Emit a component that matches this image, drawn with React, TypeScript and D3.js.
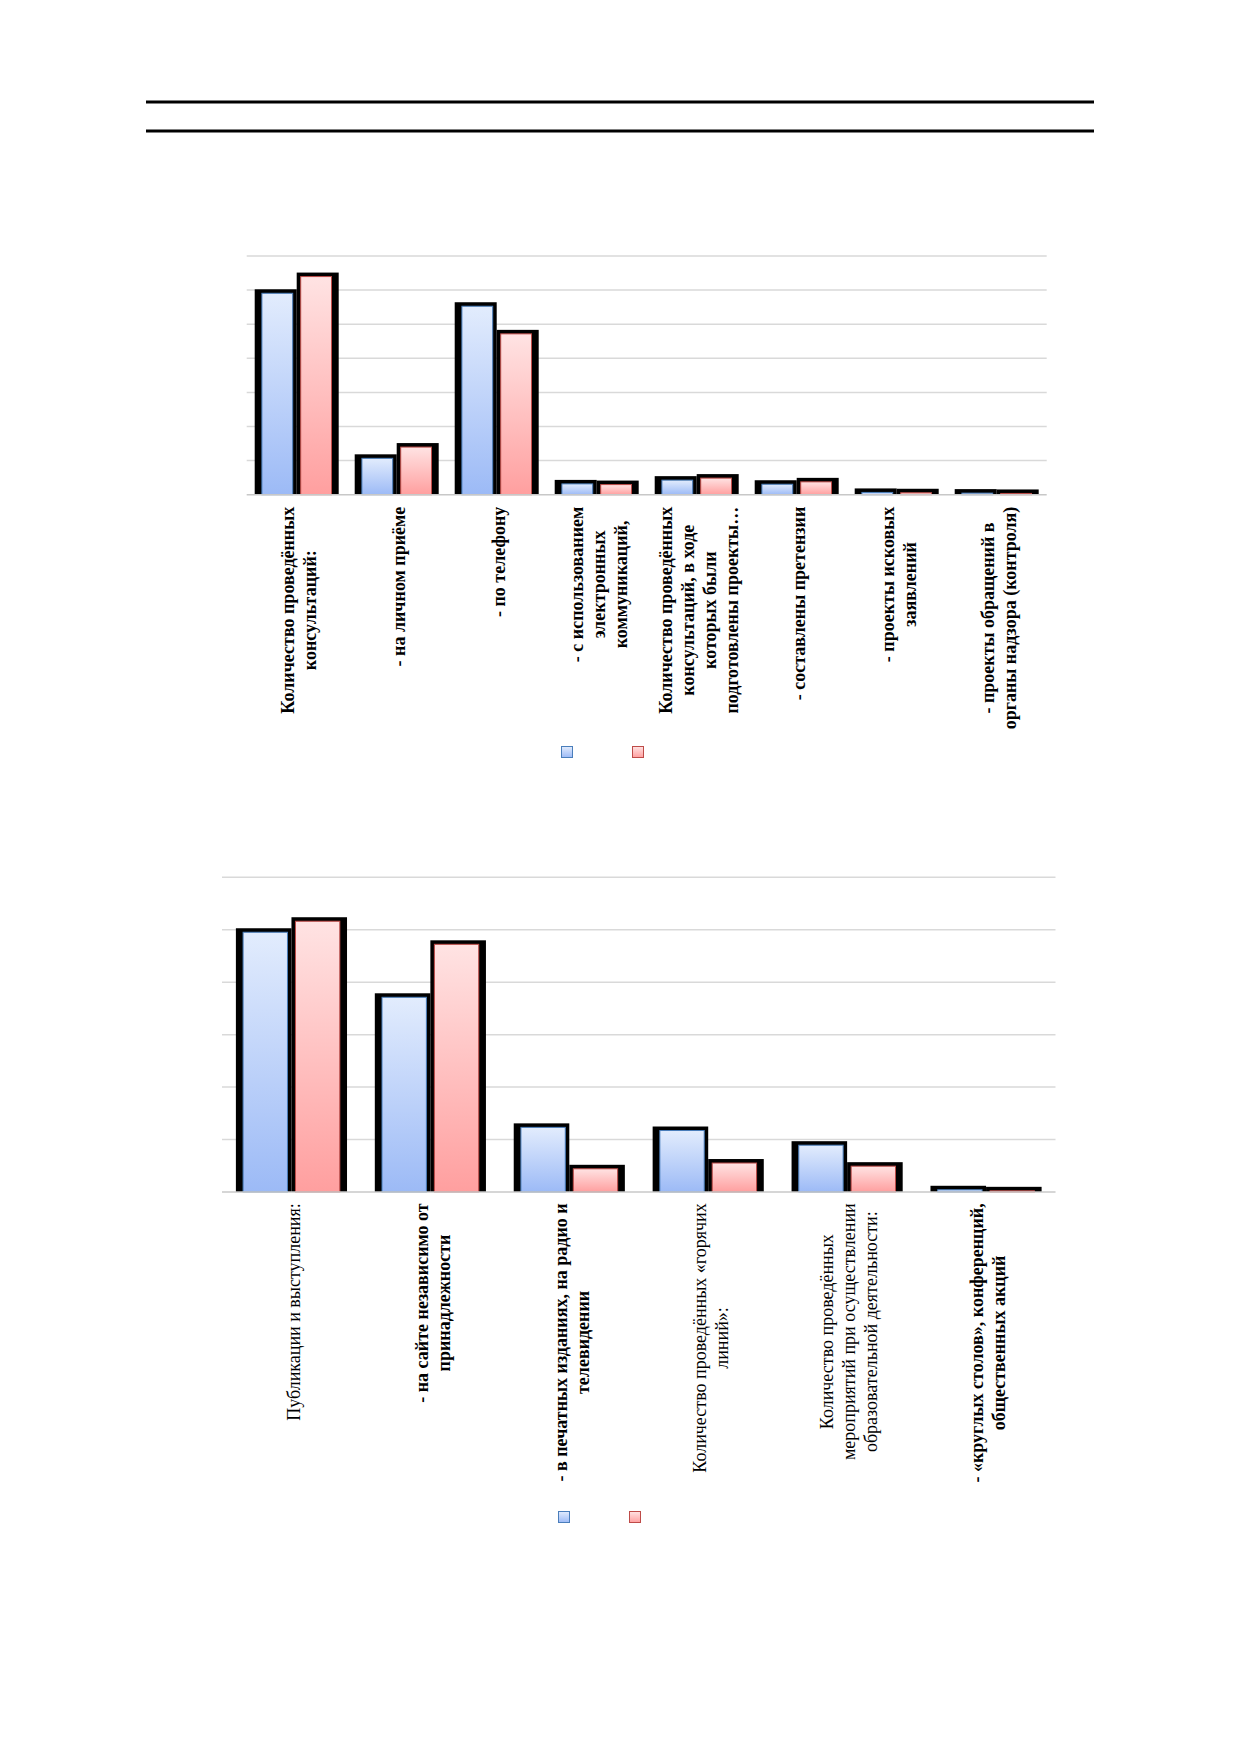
import React, { useEffect, useRef } from 'react';
import * as d3 from 'd3';

// ---------- Chart 1 data ----------
const categories1 = [
  'Количество проведённых\nконсультаций:',
  '- на личном приёме',
  '- по телефону',
  '- с использованием\nэлектронных\nкоммуникаций,',
  'Количество проведённых\nконсультаций, в ходе\nкоторых были\nподготовлены проекты…',
  '- составлены претензии',
  '- проекты исковых\nзаявлений',
  '- проекты обращений в\nорганы надзора (контроля)',
];
const seriesA1 = [598, 114, 560, 39, 50, 38, 14, 12];
const seriesB1 = [647, 147, 479, 37, 56, 45, 13, 11];
const ticks1 = [0, 100, 200, 300, 400, 500, 600, 700];

// ---------- Chart 2 data ----------
const categories2 = [
  'Публикации и выступления:',
  '- на сайте независимо от\nпринадлежности',
  '- в печатных изданиях, на радио и\nтелевидении',
  'Количество проведённых «горячих\nлиний»:',
  'Количество проведённых\nмероприятий при осуществлении\nобразовательной деятельности:',
  '- «круглых столов», конференций,\nобщественных акций',
];
const seriesA2 = [500, 376, 128, 122, 94, 9];
const seriesB2 = [521, 477, 49, 60, 54, 7];
const ticks2 = [0, 100, 200, 300, 400, 500, 600];

const FONT = '"Liberation Serif", "Times New Roman", serif';

type Cfg = {
  cats: string[];
  series: number[][];
  ticks: number[];
  left: number;
  right: number;
  top: number;
  base: number;
  pi: number;
  po: number;
  labelTop: number;
  boldAll: boolean;
  legendY: number;
  legendX: number[];
};

export default function App() {
  const ref = useRef<SVGSVGElement>(null);

  useEffect(() => {
    const svg = d3.select(ref.current!);
    svg.selectAll('*').remove();
    svg.append('rect').attr('width', 1237).attr('height', 1754).attr('fill', '#fff');

    const defs = svg.append('defs');
    const grad = (id: string, c0: string, c1: string) => {
      const g = defs.append('linearGradient').attr('id', id).attr('x1', 0).attr('y1', 0).attr('x2', 0).attr('y2', 1);
      g.append('stop').attr('offset', '0%').attr('stop-color', c0);
      g.append('stop').attr('offset', '100%').attr('stop-color', c1);
    };
    grad('gBlue', '#e2ecfd', '#9cbaf6');
    grad('gRed', '#ffe3e3', '#ff9f9f');
    const fills = ['url(#gBlue)', 'url(#gRed)'];
    const edges = ['#4a7ebb', '#be4b48'];

    // page rules
    [102, 131].forEach((yy) => {
      svg.append('line').attr('x1', 146).attr('x2', 1094).attr('y1', yy).attr('y2', yy)
        .attr('stroke', '#000').attr('stroke-width', 3);
    });

    const drawChart = (c: Cfg) => {
      const n = c.cats.length;
      const x0 = d3.scaleBand<number>().domain(d3.range(n)).range([c.left, c.right])
        .paddingInner(c.pi).paddingOuter(c.po);
      const x1 = d3.scaleBand<number>().domain([0, 1]).range([0, x0.bandwidth()]);
      const maxT = c.ticks[c.ticks.length - 1];
      const y = d3.scaleLinear().domain([0, maxT]).range([c.base, c.top]);

      const g = svg.append('g');
      c.ticks.filter((t) => t > 0).forEach((t) => {
        g.append('line').attr('x1', c.left).attr('x2', c.right).attr('y1', y(t)).attr('y2', y(t))
          .attr('stroke', '#d9d9d9').attr('stroke-width', 1.5);
      });

      c.series.forEach((vals, si) => {
        vals.forEach((v, i) => {
          const sx = (x0(i) as number) + (x1(si) as number);
          const sw = x1.bandwidth();
          const yv = y(v);
          g.append('rect').attr('x', sx).attr('y', yv - 1.5).attr('width', sw)
            .attr('height', Math.max(0, c.base - (yv - 1.5))).attr('fill', '#000');
          const iL = si === 0 ? 6.7 : 3.5;
          const iR = si === 0 ? 3.5 : 6.7;
          const fh = c.base - (yv + 2);
          if (fh > 0) {
            g.append('rect').attr('x', sx + iL + 0.5).attr('y', yv + 2.5).attr('width', sw - iL - iR - 1)
              .attr('height', Math.max(0, fh - 0.5)).attr('fill', fills[si])
              .attr('stroke', edges[si]).attr('stroke-width', 1);
          }
        });
      });

      g.append('line').attr('x1', c.left).attr('x2', c.right).attr('y1', c.base).attr('y2', c.base)
        .attr('stroke', '#c8c8c8').attr('stroke-width', 1.5);

      // category labels (rotated)
      const fs = 18;
      const lh = 22;
      c.cats.forEach((cat, i) => {
        const lines = cat.split('\n');
        const bold = c.boldAll || cat.trim().startsWith('-');
        const lg = g.append('g');
        const m = lines.length;
        let maxLen = 0;
        lines.forEach((ln, k) => {
          const t = lg.append('text').attr('text-anchor', 'middle').attr('x', 0)
            .attr('y', (k - (m - 1) / 2) * lh).attr('dy', '0.35em')
            .attr('font-family', FONT).attr('font-size', fs)
            .attr('font-weight', bold ? 'bold' : 'normal').attr('fill', '#000').text(ln);
          const len = (t.node() as SVGTextElement).getComputedTextLength();
          if (len > maxLen) maxLen = len;
        });
        const cx = (x0(i) as number) + x0.bandwidth() / 2 + 2;
        lg.attr('transform', `translate(${cx},${c.labelTop + maxLen / 2}) rotate(-90)`);
      });

      // legend (markers only)
      c.legendX.forEach((lx, si) => {
        g.append('rect').attr('x', lx - 5.5).attr('y', c.legendY - 5.5).attr('width', 11).attr('height', 11)
          .attr('fill', fills[si]).attr('stroke', edges[si]).attr('stroke-width', 1);
      });
    };

    drawChart({
      cats: categories1, series: [seriesA1, seriesB1], ticks: ticks1,
      left: 246.7, right: 1046.7, top: 256, base: 494.7, pi: 0.16, po: 0.08,
      labelTop: 506.7, boldAll: true, legendY: 752, legendX: [567, 638],
    });
    drawChart({
      cats: categories2, series: [seriesA2, seriesB2], ticks: ticks2,
      left: 222, right: 1055.5, top: 877.3, base: 1192, pi: 0.2, po: 0.1,
      labelTop: 1203.3, boldAll: false, legendY: 1517, legendX: [564, 635],
    });
  }, []);

  return (
    <svg ref={ref} width={1237} height={1754}
      style={{ position: 'absolute', left: 0, top: 0, display: 'block' }} />
  );
}
